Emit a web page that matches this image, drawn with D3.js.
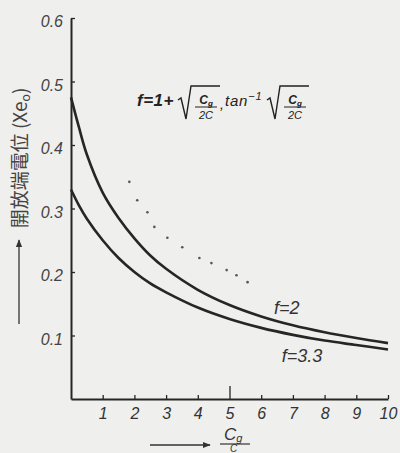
<!DOCTYPE html>
<html><head><meta charset="utf-8">
<script src="https://cdn.jsdelivr.net/npm/d3@7/dist/d3.min.js"></script>
<style>
html,body{margin:0;padding:0;background:#efefed;}
svg{display:block;}
</style></head>
<body>
<svg id="c" width="400" height="453"></svg>
<script>
// ---- data ----
const xTicks = [1,2,3,4,5,6,7,8,9,10];
const yTicks = [0.1,0.2,0.3,0.4,0.5,0.6];
const yTickLabels = ["0.1","0.2","0.3","0.4","0.5","0.6"];
const cgRatio = [0,0.25,0.5,1,1.5,2,2.5,3,4,5,6,7,8,9,10];
const f2 = [0.475,0.428,0.385,0.325,0.285,0.253,0.226,0.205,0.172,0.148,0.130,0.116,0.105,0.096,0.088];
const f33 = [0.330,0.305,0.284,0.250,0.222,0.200,0.182,0.168,0.144,0.126,0.112,0.101,0.092,0.085,0.078];
const dotX = [1.84,2.09,2.41,2.63,3.04,3.51,4.05,4.43,4.91,5.22,5.57];
const dotY = [0.342,0.313,0.294,0.271,0.254,0.239,0.222,0.214,0.203,0.195,0.184];
const seriesLabels = ["f=2","f=3.3"];

const svg = d3.select("#c");
const ink = "#262626";
const x = d3.scaleLinear().domain([0,10]).range([71,388]);
const y = d3.scaleLinear().domain([0,0.6]).range([399,18]);
const tickFont = "'Liberation Sans Narrow','Liberation Sans',sans-serif";

// x axis
const gx = svg.append("g").attr("transform","translate(0,399)")
  .call(d3.axisBottom(x).tickValues(xTicks).tickSizeInner(-4).tickSizeOuter(0).tickPadding(9));
gx.select(".domain").attr("stroke",ink).attr("stroke-width",2);
gx.selectAll(".tick line").attr("stroke",ink).attr("stroke-width",1.3)
  .attr("y2",d=>d===5?-13:-4);
gx.selectAll(".tick text").attr("fill","#333").attr("font-family",tickFont)
  .attr("font-style","italic").attr("font-size",16);

// y axis
const gy = svg.append("g").attr("transform","translate(71,0)")
  .call(d3.axisLeft(y).tickValues(yTicks).tickFormat((d,i)=>yTickLabels[i]).tickSizeInner(-4).tickSizeOuter(0).tickPadding(8));
gy.select(".domain").attr("stroke",ink).attr("stroke-width",2);
gy.selectAll(".tick line").attr("stroke",ink).attr("stroke-width",1.3);
gy.selectAll(".tick text").attr("fill","#444").attr("font-family",tickFont)
  .attr("font-style","italic").attr("font-size",16).attr("dy","0.55em");

// curves
const line = d3.line().x(d=>x(d[0])).y(d=>y(d[1])).curve(d3.curveCatmullRom);
[f2,f33].forEach(s=>{
  svg.append("path").datum(cgRatio.map((c,i)=>[c,s[i]]))
    .attr("d",line).attr("fill","none").attr("stroke",ink).attr("stroke-width",2.6);
});

// dots
svg.append("g").selectAll("circle").data(dotX.map((d,i)=>[d,dotY[i]])).join("circle")
  .attr("cx",d=>x(d[0])).attr("cy",d=>y(d[1])).attr("r",1.3).attr("fill","#555");

// curve labels
const lblFont = "'Liberation Sans','DejaVu Sans',sans-serif";
svg.append("text").attr("x",x(6.4)).attr("y",314).text(seriesLabels[0])
  .attr("font-family",lblFont).attr("font-style","italic").attr("font-size",18).attr("fill","#333");
svg.append("text").attr("x",x(6.65)).attr("y",362).text(seriesLabels[1])
  .attr("font-family",lblFont).attr("font-style","italic").attr("font-size",18).attr("fill","#333");

// formula
const fm = svg.append("g").attr("font-family",lblFont).attr("font-style","italic").attr("fill","#222").attr("stroke","none");
fm.append("text").attr("x",137).attr("y",106).attr("font-size",17).attr("font-weight","bold").attr("letter-spacing",0.5).text("f=1+");
function sqrtFrac(x0){
  fm.append("path").attr("d",`M${x0},100 L${x0+3},98 L${x0+8},119 L${x0+13},86 L${x0+42},86`)
    .attr("fill","none").attr("stroke","#222").attr("stroke-width",1.4);
  const cx = x0+28;
  fm.append("text").attr("x",cx).attr("y",104).attr("text-anchor","middle").attr("font-size",12).attr("font-weight","bold")
    .text("C").append("tspan").attr("font-size",8).attr("dy",2).text("g");
  fm.append("line").attr("x1",cx-11).attr("x2",cx+11).attr("y1",107).attr("y2",107).attr("stroke","#222").attr("stroke-width",1);
  fm.append("text").attr("x",cx).attr("y",119).attr("text-anchor","middle").attr("font-size",11).text("2C");
}
sqrtFrac(178);
fm.append("text").attr("x",220).attr("y",109).attr("font-size",14).text(",");
fm.append("text").attr("x",225).attr("y",106).attr("font-size",15).attr("letter-spacing",0.8).text("tan")
  .append("tspan").attr("font-size",11).attr("dy",-6).text("−1");
sqrtFrac(267);

// y label
const yl = svg.append("text").attr("transform","translate(27,158) rotate(-90)").attr("text-anchor","middle")
  .attr("font-family","'Noto Sans CJK JP',sans-serif").attr("font-size",19).attr("fill","#444");
yl.append("tspan").text("開放端電位 (Xe");
yl.append("tspan").attr("font-size",12).attr("dy",3).text("o");
yl.append("tspan").attr("dy",-3).text(")");

// arrows
const defs = svg.append("defs");
defs.append("marker").attr("id","ah").attr("viewBox","0 0 10 10").attr("refX",9).attr("refY",5)
  .attr("markerWidth",6).attr("markerHeight",6).attr("orient","auto")
  .append("path").attr("d","M0,1 L10,5 L0,9 Z").attr("fill","#333");
svg.append("line").attr("x1",19).attr("y1",324).attr("x2",19).attr("y2",240)
  .attr("stroke","#333").attr("stroke-width",1.3).attr("marker-end","url(#ah)");
svg.append("line").attr("x1",150).attr("y1",445).attr("x2",210).attr("y2",445)
  .attr("stroke","#333").attr("stroke-width",1.3).attr("marker-end","url(#ah)");

// x label (fraction Cg / C)
const xl = svg.append("g").attr("font-family",lblFont).attr("font-style","italic").attr("fill","#333");
xl.append("text").attr("x",224).attr("y",440).attr("font-size",17).text("C")
  .append("tspan").attr("font-size",11).attr("dy",2).text("g");
xl.append("line").attr("x1",220).attr("x2",250).attr("y1",444).attr("y2",444).attr("stroke","#333").attr("stroke-width",1.2);
xl.append("text").attr("x",230).attr("y",452).attr("font-size",10).text("C");
</script>
</body></html>
